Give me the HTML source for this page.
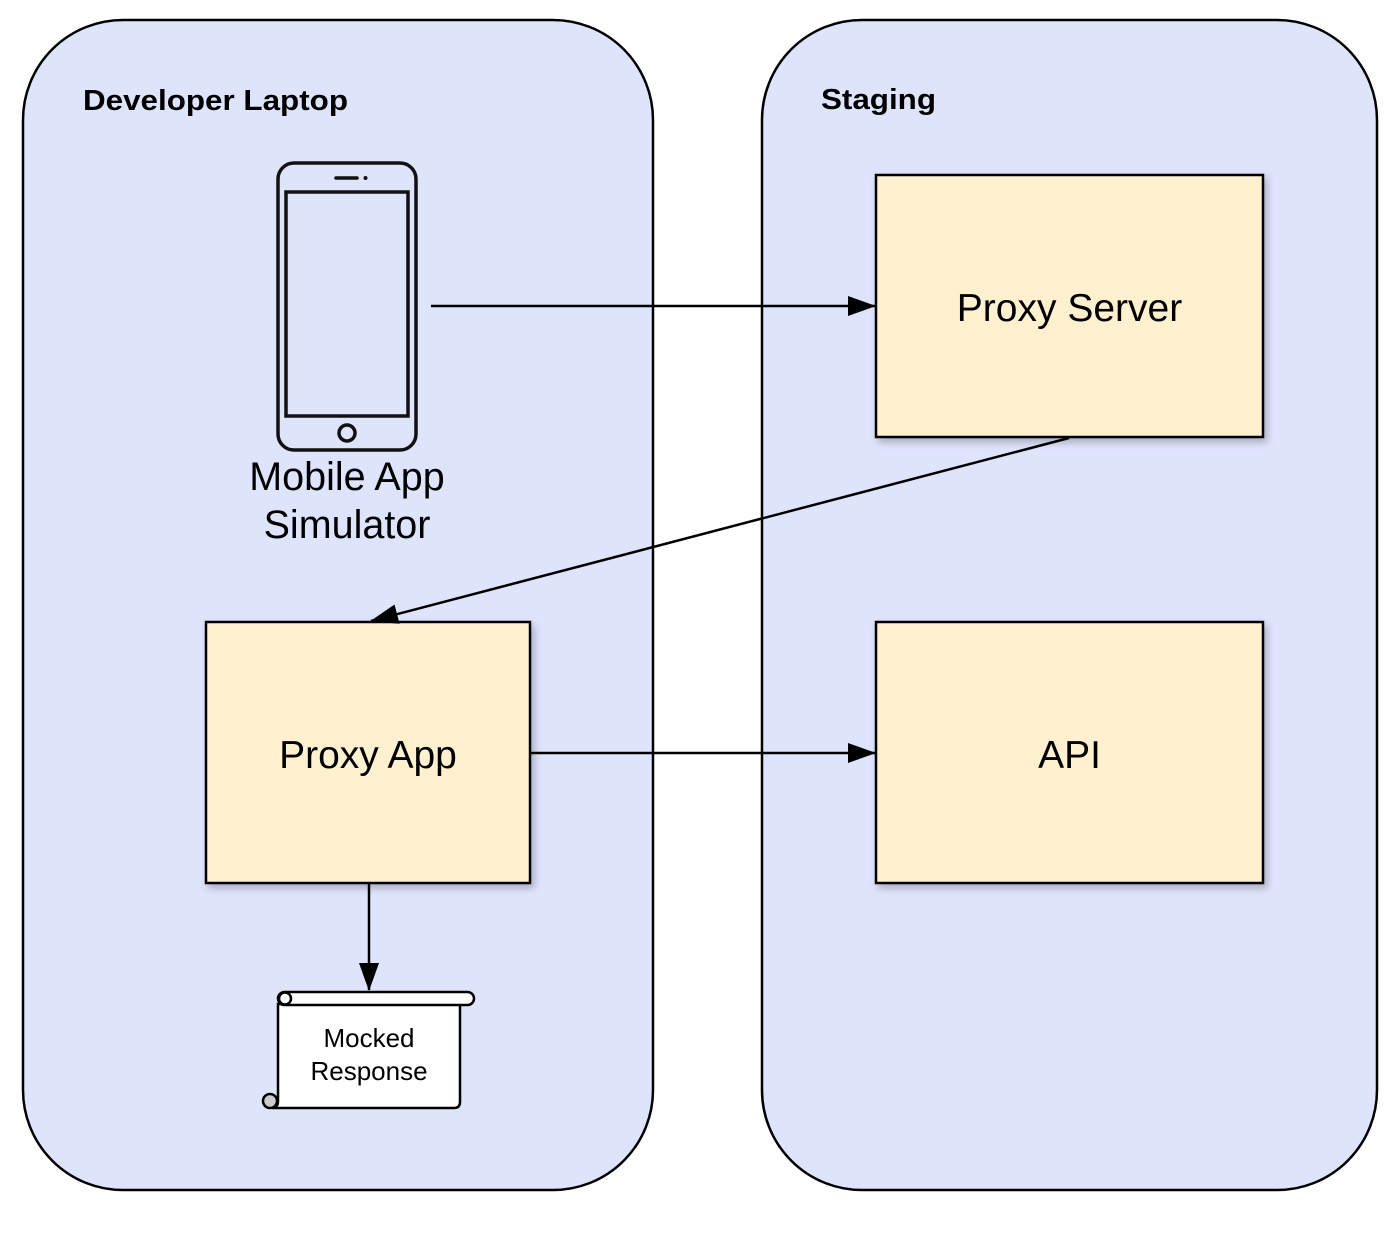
<!DOCTYPE html>
<html><head><meta charset="utf-8"><style>html,body{margin:0;padding:0;background:#fff}svg{display:block}</style></head><body>
<svg width="1400" height="1257" viewBox="0 0 1400 1257" xmlns="http://www.w3.org/2000/svg" font-family="Liberation Sans, Arial, sans-serif">
<defs>
<marker id="ah" markerWidth="28" markerHeight="20" refX="27" refY="10" orient="auto" markerUnits="userSpaceOnUse"><path d="M0,0 L28,10 L0,20 Z" fill="#000"/></marker>
<filter id="sh" x="-10%" y="-10%" width="130%" height="130%"><feDropShadow dx="3" dy="4" stdDeviation="4" flood-color="#000" flood-opacity="0.25"/></filter>
</defs>
<rect x="23" y="20" width="630" height="1170" rx="100" fill="#dfe4fd" stroke="#000" stroke-width="2.5"/>
<rect x="762" y="20" width="615" height="1170" rx="100" fill="#dfe4fd" stroke="#000" stroke-width="2.5"/>
<text x="83" y="110" font-size="29" font-weight="bold" textLength="265" lengthAdjust="spacingAndGlyphs">Developer Laptop</text>
<text x="821" y="109" font-size="29" font-weight="bold" textLength="115" lengthAdjust="spacingAndGlyphs">Staging</text>
<!-- phone -->
<rect x="278" y="163" width="138" height="287" rx="16" fill="none" stroke="#111" stroke-width="3.5"/>
<rect x="286" y="192" width="122" height="224" fill="none" stroke="#111" stroke-width="3.5"/>
<line x1="336" y1="178" x2="357" y2="178" stroke="#111" stroke-width="3.5" stroke-linecap="round"/>
<circle cx="365.5" cy="178" r="2" fill="#111"/>
<circle cx="347" cy="433" r="8" fill="none" stroke="#111" stroke-width="3.5"/>
<text x="347" y="490" font-size="39.5" text-anchor="middle">Mobile App</text>
<text x="347" y="538" font-size="39.5" text-anchor="middle">Simulator</text>
<!-- boxes -->
<rect x="876" y="175" width="387" height="262" fill="#fff1cf" stroke="#000" stroke-width="2.5" filter="url(#sh)"/>
<text x="1069.5" y="321" font-size="39" text-anchor="middle">Proxy Server</text>
<rect x="206" y="622" width="324" height="261" fill="#fff1cf" stroke="#000" stroke-width="2.5" filter="url(#sh)"/>
<text x="368" y="768" font-size="39" text-anchor="middle">Proxy App</text>
<rect x="876" y="622" width="387" height="261" fill="#fff1cf" stroke="#000" stroke-width="2.5" filter="url(#sh)"/>
<text x="1069.5" y="768" font-size="39" text-anchor="middle">API</text>
<!-- arrows -->
<line x1="431" y1="306" x2="875" y2="306" stroke="#000" stroke-width="2.5" marker-end="url(#ah)"/>
<line x1="1069" y1="438" x2="371" y2="621" stroke="#000" stroke-width="2.5" marker-end="url(#ah)"/>
<line x1="531" y1="753" x2="875" y2="753" stroke="#000" stroke-width="2.5" marker-end="url(#ah)"/>
<line x1="369" y1="884" x2="369" y2="990" stroke="#000" stroke-width="2.5" marker-end="url(#ah)"/>
<!-- scroll -->
<path d="M278,1004 L278,1101 Q278,1108 272,1108 L454,1108 Q460,1108 460,1102 L460,1004 Z" fill="#fff" stroke="#000" stroke-width="2.5"/>
<rect x="278" y="992" width="196" height="13" rx="6.5" fill="#fff" stroke="#000" stroke-width="2.5"/>
<circle cx="285" cy="998.5" r="6" fill="#fff" stroke="#000" stroke-width="2.5"/>
<circle cx="270" cy="1101" r="7" fill="#ccc" stroke="#000" stroke-width="2.5"/>
<text x="369" y="1047" font-size="26" text-anchor="middle">Mocked</text>
<text x="369" y="1080" font-size="26" text-anchor="middle">Response</text>
</svg>
</body></html>
